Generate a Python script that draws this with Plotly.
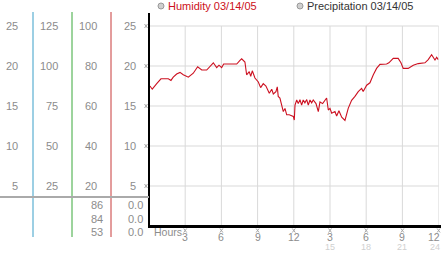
import plotly.graph_objects as go

W, H = 442, 253

# ---- data ----
hours = [0.08, 0.27, 0.64, 0.99, 1.60, 1.82, 2.01, 2.29, 2.57, 2.84, 3.26, 3.67, 4.03, 4.37,
         4.78, 5.05, 5.33, 5.61, 5.80, 6.02, 6.19, 6.85, 7.27, 7.54, 7.68, 7.95, 8.09, 8.31,
         8.43, 8.56, 8.78, 9.06, 9.25, 9.47, 9.69, 9.97, 10.17, 10.30, 10.52, 10.63, 10.71,
         10.85, 10.99, 11.13, 11.27, 11.41, 11.62, 11.82, 11.96, 12.04, 12.10, 12.24, 12.37,
         12.51, 12.65, 12.78, 12.92, 13.07, 13.20, 13.34, 13.48, 13.61, 13.84, 14.03, 14.17,
         14.39, 14.58, 14.72, 14.86, 15.00, 15.14, 15.41, 15.55, 15.74, 15.97, 16.24, 16.51,
         16.79, 17.07, 17.34, 17.62, 17.75, 18.04, 18.31, 18.59, 18.86, 19.14, 19.69, 19.88,
         20.24, 20.65, 20.88, 21.07, 21.48, 21.90, 22.31, 22.87, 23.14, 23.42, 23.70, 23.84,
         23.97]
humidity = [17.5, 17.1, 17.8, 18.4, 18.4, 18.2, 18.6, 19.0, 19.2, 18.9, 18.6, 19.1, 19.9, 19.5,
            19.5, 19.9, 20.4, 19.8, 20.1, 19.8, 20.25, 20.25, 20.25, 20.7, 20.9, 20.5, 18.9, 19.3,
            18.7, 19.4, 18.5, 18.0, 17.3, 17.8, 17.5, 16.6, 17.1, 16.5, 16.8, 17.4,
            16.2, 16.0, 15.3, 14.3, 14.7, 13.9, 13.9, 13.75, 13.7, 13.25, 15.1, 15.75, 15.3,
            15.8, 15.1, 15.75, 15.4, 15.8, 15.1, 15.75, 15.4, 15.75, 15.3, 14.3, 15.5,
            15.3, 15.75, 16.0, 14.5, 14.7, 14.1, 14.3, 13.75, 14.4, 13.6, 13.2, 14.7,
            15.7, 16.2, 16.8, 17.2, 16.8, 17.6, 17.9, 18.9, 19.7, 20.2, 20.25, 20.4,
            20.95, 20.95, 20.4, 19.7, 19.7, 20.1, 20.3, 20.4, 20.8, 21.4, 20.75, 21.1,
            20.8]

y_ticks = [5, 10, 15, 20, 25]
x_ticks = [3, 6, 9, 12, 15, 18, 21, 24]
x_tick_labels = ["3", "6", "9", "12", "3", "6", "9", "12"]
x_tick_labels2 = ["", "", "", "", "15", "18", "21", "24"]
col1_labels = ["5", "10", "15", "20", "25"]
col2_labels = ["25", "50", "75", "100", "125"]
col3_labels = ["20", "40", "60", "80", "100"]
col4_labels = ["5", "10", "15", "20", "25"]
low_col3 = ["86", "84", "53"]
low_col4 = ["0.0", "0.0", "0.0"]
legend_items = ["Humidity 03/14/05", "Precipitation 03/14/05"]

# ---- geometry helpers (pixels -> paper) ----
def X(px):
    return px / W

def Y(py):
    return 1 - py / H

x0_px, x1_px = 149, 438.6
y0_px, ytop_px = 226, 13
ymax = (y0_px - ytop_px) / 8.0
px_per_hour = (x1_px - x0_px) / 24.0
px_per_unit = 8.0

FONT = "Liberation Sans"
GRAY = "#8c8c8c"
MARK_COL = "#a8a8a8"

fig = go.Figure()
fig.add_trace(go.Scatter(x=hours, y=humidity, mode="lines",
                         line=dict(color="#cc1020", width=1.1, shape="linear"),
                         hoverinfo="skip", showlegend=False))

shapes = []
ann = []

def tick_mark(cx, cy):
    # tiny "x"-like tick glyph, centred at pixel (cx, cy)
    for dx0, dy0, dx1, dy1 in [(-1.5, -2, 1.5, 2), (-1.5, 2, 1.5, -2)]:
        shapes.append(dict(type="line", xref="paper", yref="paper",
                           x0=X(cx + dx0), y0=Y(cy + dy0), x1=X(cx + dx1), y1=Y(cy + dy1),
                           line=dict(color=MARK_COL, width=1)))

# grid lines + small tick glyphs
for v in y_ticks:
    shapes.append(dict(type="line", xref="x", yref="y", x0=0, x1=24.1, y0=v, y1=v,
                       line=dict(color="#d9d9d9", width=1), layer="below"))
    tick_mark(146, y0_px - v * px_per_unit)
for t in x_ticks:
    shapes.append(dict(type="line", xref="x", yref="y", x0=t, x1=t, y0=0, y1=25,
                       line=dict(color="#d9d9d9", width=1), layer="below"))
    tick_mark(x0_px + t * px_per_hour, 230.5)

# axes lines
shapes.append(dict(type="line", xref="paper", yref="paper", x0=X(149), x1=X(149),
                   y0=Y(13), y1=Y(227), line=dict(color="black", width=2)))
shapes.append(dict(type="line", xref="paper", yref="paper", x0=X(148), x1=X(441),
                   y0=Y(226.5), y1=Y(226.5), line=dict(color="black", width=3)))

# left panel lines
for px, col in [(33, "#3b9fc8"), (72, "#3aa83a"), (111, "#c83a3a")]:
    shapes.append(dict(type="line", xref="paper", yref="paper", x0=X(px), x1=X(px),
                       y0=Y(12), y1=Y(237), line=dict(color=col, width=1)))
shapes.append(dict(type="line", xref="paper", yref="paper", x0=0, x1=X(149),
                   y0=Y(197), y1=Y(197), line=dict(color="#aaaaaa", width=2)))

# left panel labels
for v, a, b, c, d in zip(y_ticks, col1_labels, col2_labels, col3_labels, col4_labels):
    for txt, rx in [(a, 20), (b, 60), (c, 99), (d, 138)]:
        ann.append(dict(x=X(rx), y=v, xref="paper", yref="y", text=txt, showarrow=False,
                        font=dict(family=FONT, size=11, color=GRAY),
                        xanchor="right", yanchor="middle"))
for i, (a, b) in enumerate(zip(low_col3, low_col4)):
    py = 205 + i * 13.7
    ann.append(dict(x=X(105), y=Y(py), xref="paper", yref="paper", text=a, showarrow=False,
                    font=dict(family=FONT, size=11, color=GRAY), xanchor="right", yanchor="middle"))
    ann.append(dict(x=X(145), y=Y(py), xref="paper", yref="paper", text=b, showarrow=False,
                    font=dict(family=FONT, size=11, color=GRAY), xanchor="right", yanchor="middle"))

# bottom labels
ann.append(dict(x=X(152), y=Y(232), xref="paper", yref="paper", text="Hours", showarrow=False,
                font=dict(family=FONT, size=10.5, color=GRAY), xanchor="left", yanchor="middle"))
n = len(x_ticks)
for i, (t, l1, l2) in enumerate(zip(x_ticks, x_tick_labels, x_tick_labels2)):
    last = (i == n - 1)
    xa = "right" if last else "center"
    xs = 3 if last else 0
    ann.append(dict(x=t, y=Y(236.7), xref="x", yref="paper", text=l1, showarrow=False,
                    font=dict(family=FONT, size=10.5, color=GRAY), xanchor=xa, xshift=xs,
                    yanchor="middle"))
    if l2:
        ann.append(dict(x=t, y=Y(247.3), xref="x", yref="paper", text=l2, showarrow=False,
                        font=dict(family=FONT, size=9, color="#d0d0d0"),
                        xanchor=xa, xshift=xs, yanchor="middle"))

# legend
for (cx, tx, col), txt in zip([(161, 166, "#cc1020"), (300, 305, "#333333")], legend_items):
    shapes.append(dict(type="circle", xref="paper", yref="paper", x0=X(cx - 3), x1=X(cx + 3),
                       y0=Y(3), y1=Y(9), fillcolor="#cfcfcf", line=dict(color="#999999", width=1)))
    ann.append(dict(x=X(tx), y=Y(6.5), xref="paper", yref="paper", text=txt, showarrow=False,
                    font=dict(family=FONT, size=11, color=col), xanchor="left", yanchor="middle"))

fig.update_layout(
    width=W, height=H, margin=dict(l=0, r=0, t=0, b=0),
    paper_bgcolor="white", plot_bgcolor="white",
    xaxis=dict(domain=[X(x0_px), X(x1_px)], range=[0, 24], showgrid=False, zeroline=False,
               showticklabels=False, showline=False, ticks="", fixedrange=True),
    yaxis=dict(domain=[Y(y0_px), Y(ytop_px)], range=[0, ymax], showgrid=False, zeroline=False,
               showticklabels=False, showline=False, ticks="", fixedrange=True),
    shapes=shapes, annotations=ann, showlegend=False,
)

fig.write_html("out.html", config={"displayModeBar": False})
